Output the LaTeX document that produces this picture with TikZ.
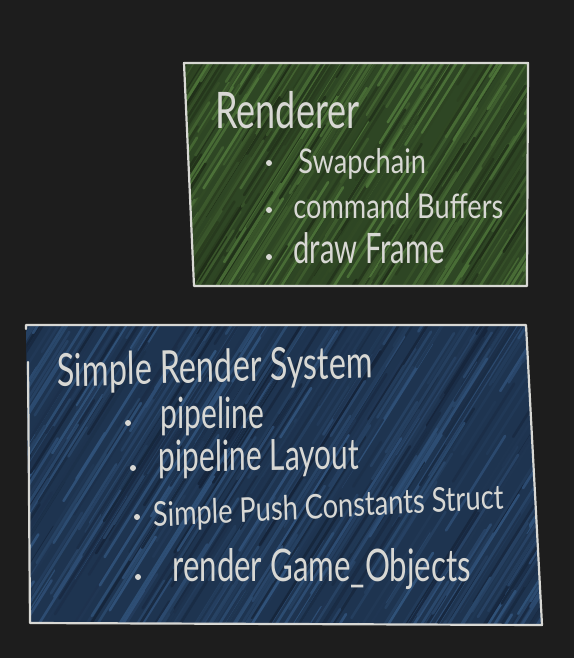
\documentclass[tikz,border=0pt]{standalone}
\usepackage{fontspec}
\setmainfont{Lato}
\definecolor{board}{HTML}{1D1D1D}
\definecolor{chalk}{HTML}{D8D8D4}
\definecolor{greenbase}{HTML}{2E4624}
\definecolor{greendark}{HTML}{1F2E18}
\definecolor{greenlite}{HTML}{4C7238}
\definecolor{bluebase}{HTML}{1E3450}
\definecolor{bluedark}{HTML}{15243A}
\definecolor{bluelite}{HTML}{30527A}

\begin{document}
\begin{tikzpicture}[x=0.5pt, y=-0.5pt,
    frame/.style={draw=chalk, line width=1.1pt, line join=round, line cap=round},
    hatch/.style={line width=1.3pt, line cap=round},
    heading/.style={anchor=base west, inner sep=0pt, text=chalk, yscale=1.4},
    entry/.style={anchor=base west, inner sep=0pt, text=chalk, yscale=1.25, font=\fontsize{13.6}{15}\selectfont},
    bigentry/.style={entry, yscale=1.15, font=\fontsize{15}{17}\selectfont},
    dot/.style={circle, fill=chalk, inner sep=0pt, minimum size=3pt}]
    \fill[board] (0,0) rectangle (574,658);
    \useasboundingbox (0,0) rectangle (574,658);
    \pgfmathsetseed{11}

    % renderer box
    \coordinate (r1) at (184,63);
    \coordinate (r2) at (528,63);
    \coordinate (r3) at (527,286);
    \coordinate (r4) at (194,286);
    \begin{scope}
        \clip (r1) -- (r2) -- (r3) -- (r4) -- cycle;
        \fill[greenbase] (r1) -- (r2) -- (r3) -- (r4) -- cycle;
        \foreach \i in {1,...,420} {
            \pgfmathsetmacro\hx{90+rnd*440}
            \pgfmathsetmacro\hy{70+rnd*300}
            \pgfmathsetmacro\hl{50+rnd*170}
            \pgfmathsetmacro\hs{rnd*100}
            \draw[hatch, greenlite!\hs!greendark] (\hx,\hy) -- ++(-58:\hl);
        }
    \end{scope}
    \draw[frame] (r1) -- (r2) -- (r3) -- (r4) -- cycle;

    % simple render system box
    \coordinate (s1) at (26,325);
    \coordinate (s2) at (526,325);
    \coordinate (s3) at (542,625);
    \coordinate (s4) at (30,623);
    \coordinate (s5) at (28,362);
    \begin{scope}
        \clip (s1) -- (s2) -- (s3) -- (s4) -- cycle;
        \fill[bluebase] (s1) -- (s2) -- (s3) -- (s4) -- cycle;
        \foreach \i in {1,...,620} {
            \pgfmathsetmacro\hx{-120+rnd*680}
            \pgfmathsetmacro\hy{330+rnd*420}
            \pgfmathsetmacro\hl{50+rnd*190}
            \pgfmathsetmacro\hs{rnd*100}
            \draw[hatch, bluelite!\hs!bluedark] (\hx,\hy) -- ++(-58:\hl);
        }
    \end{scope}
    \draw[frame] (s5) -- (s4) -- (s3) -- (s2) -- (s1) -- ++(0,4);

    % renderer text
    \node[heading, font=\fontsize{18}{20}\selectfont] (renderer) at (215,128) {Renderer};
    \node[dot] (b1) at (269,163) {};
    \node[entry] (swapchain) at (298,173) {Swapchain};
    \node[dot] (b2) at (269,210) {};
    \node[entry] (cmdbuffers) at (293,218) {command Buffers};
    \node[dot] (b3) at (269,257) {};
    \node[bigentry, font=\fontsize{14.6}{16}\selectfont] (drawframe) at (293,263) {draw Frame};

    % simple render system text
    \node[heading, font=\fontsize{16.2}{18}\selectfont, rotate=1.2] (srs) at (57,387) {Simple Render System};
    \node[dot] (b4) at (128,423) {};
    \node[bigentry] (pipeline) at (160,428) {pipeline};
    \node[dot] (b5) at (133,468) {};
    \node[bigentry, rotate=0.6] (layout) at (158,472) {pipeline Layout};
    \node[dot] (b6) at (137,517) {};
    \node[entry, rotate=2.4] (pushconst) at (153,527) {Simple Push Constants Struct};
    \node[dot] (b7) at (138,577) {};
    \node[bigentry, font=\fontsize{15.6}{17}\selectfont] (gameobjects) at (172,581) {render Game\_Objects};
\end{tikzpicture}
\end{document}
